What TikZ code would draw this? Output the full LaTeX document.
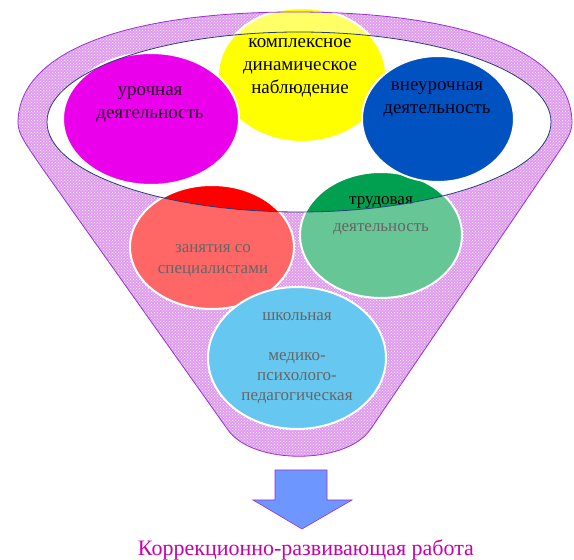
\documentclass[tikz,border=0pt]{standalone}
\usepackage{fontspec}
\setmainfont{Liberation Serif}
\usetikzlibrary{shapes.geometric,patterns}

\definecolor{funnelpink}{RGB}{205,88,228}
\definecolor{funnelline}{RGB}{150,50,220}
\definecolor{rimline}{RGB}{40,60,120}
\definecolor{cmagenta}{RGB}{235,0,235}
\definecolor{cyellow}{RGB}{255,255,0}
\definecolor{cblue}{RGB}{0,82,192}
\definecolor{cred}{RGB}{255,0,0}
\definecolor{cgreen}{RGB}{0,160,80}
\definecolor{clightblue}{RGB}{0,163,230}
\definecolor{carrow}{RGB}{110,150,255}
\definecolor{cresult}{RGB}{200,0,170}

\newcommand{\funnelpath}{(228,130) -- (40,395) .. controls (26,416) and (18,426) .. (18,437)
  .. controls (18,510) and (130,548) .. (295,548) .. controls (460,548) and (572,510) .. (572,437)
  .. controls (572,426) and (564,416) .. (550,395) -- (370,130)
  .. controls (345,95) and (253,95) .. cycle}
\newcommand{\rimpath}{(299,438) ellipse [x radius=252, y radius=90]}

\tikzset{
  blob/.style={ellipse, draw=white, line width=2pt, inner sep=0pt},
  toptext/.style={align=center, font=\fontsize{19}{23}\selectfont},
  lowtext/.style={align=center, font=\fontsize{17}{21}\selectfont},
}

\begin{document}
\begin{tikzpicture}[x=1pt, y=1pt]
  \useasboundingbox (0,0) rectangle (574,560);

  % funnel body
  \fill[funnelpink] \funnelpath;
  \fill[pattern=crosshatch dots, pattern color=white] \funnelpath;
  \fill[white] \rimpath;

  % circles
  \node[blob, fill=cyellow, minimum width=168pt, minimum height=134pt] (nabl) at (302,485) {};
  \node[blob, fill=cgreen, minimum width=162pt, minimum height=126pt] (trud) at (381,325) {};
  \node[blob, fill=cred, minimum width=164pt, minimum height=124pt] (spec) at (212,313) {};
  \node[blob, fill=cmagenta, minimum width=176pt, minimum height=132pt] (urok) at (151,441) {};
  \node[blob, fill=cblue, minimum width=152pt, minimum height=126pt] (vneur) at (438,441) {};
  \node[blob, fill=clightblue, minimum width=178pt, minimum height=142pt] (shkol) at (297,202) {};

  % labels
  \node[toptext, text=black!85!cmagenta] (urok-t) at ([shift={(-1,15)}]urok.center) {урочная\\деятельность};
  \node[toptext, text=black] (nabl-t) at ([shift={(-2,7)}]nabl.center) {комплексное\\динамическое\\наблюдение};
  \node[toptext, text=black!90!blue] (vneur-t) at ([shift={(-1,20)}]vneur.center) {внеурочная\\деятельность};
  \node[lowtext, text=black] (spec-t) at ([shift={(1,-14)}]spec.center) {занятия со\\специалистами};
  \node[lowtext, text=black, font=\fontsize{17}{27}\selectfont] (trud-t) at ([shift={(0,19)}]trud.center) {трудовая\\деятельность};
  \node[lowtext, text=black, font=\fontsize{17}{20}\selectfont] (shkol-t) at (shkol.center) {школьная\\[20pt]медико-\\психолого-\\педагогическая};

  % front of the funnel
  \fill[white, opacity=0.4, even odd rule] \funnelpath \rimpath;
  \draw[rimline, line width=0.8pt] \rimpath;
  \draw[funnelline, line width=0.8pt] \funnelpath;

  % result
  \draw[funnelline, fill=carrow, line width=0.6pt] (275,90) -- (327,90) -- (327,60) -- (352,60)
    -- (302,31) -- (253,60) -- (275,60) -- cycle;
  \node[anchor=base, text=cresult, font=\fontsize{22}{26}\selectfont] (result) at (306,4) {Коррекционно-развивающая работа};
\end{tikzpicture}
\end{document}
